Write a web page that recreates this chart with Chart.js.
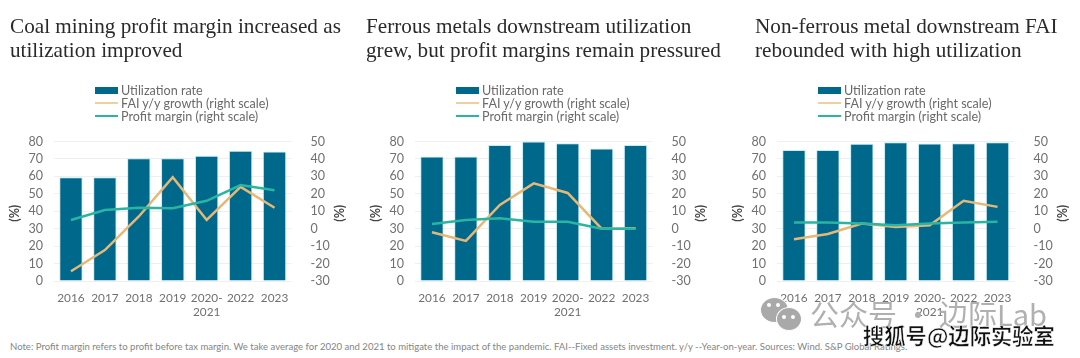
<!DOCTYPE html>
<html>
<head>
<meta charset="utf-8">
<script src="https://cdn.jsdelivr.net/npm/chart.js@4/dist/chart.umd.min.js"></script>
<style>
  html, body { margin: 0; padding: 0; background: #fff; }
  body { width: 1080px; height: 358px; position: relative; overflow: hidden; }
  canvas { position: absolute; top: 0; }
  .title { position: absolute; top: 14px; font: 21.2px/24px "Liberation Serif", serif; color: #2a2a2a; white-space: nowrap; }
  .legend { position: absolute; top: 84px; font: 12.6px/13px Lato, sans-serif; color: #6a6a6a; white-space: nowrap; }
  .legend div { position: relative; padding-left: 26px; height: 13px; }
  .legend i { position: absolute; left: 0; }
  #note { position: absolute; left: 10px; top: 341px; font: 9.55px/12px Lato, sans-serif; color: #858585; white-space: nowrap; }
  .mark { position: absolute; white-space: nowrap; }
  .blob { position: absolute; border-radius: 50%; background: #a9a9a9; border: 1px solid #fff; }
  .eye { position: absolute; border-radius: 50%; background: #fff; width: 4px; height: 4px; }
</style>
</head>
<body>
<canvas id="chart1" width="360" height="330" style="left:0"></canvas>
<canvas id="chart2" width="360" height="330" style="left:360px"></canvas>
<canvas id="chart3" width="360" height="330" style="left:720px"></canvas>
<div id="note"></div>
<div class="blob" style="left:760px;top:297px;width:27px;height:24px"></div>
<div class="blob" style="left:776px;top:307px;width:24px;height:22px"></div>
<div class="eye" style="left:767px;top:303px"></div>
<div class="eye" style="left:776px;top:303px"></div>
<div class="eye" style="left:782px;top:315px"></div>
<div class="eye" style="left:791px;top:315px"></div>
<div class="mark" style="left:810px;top:293px;font:29px/40px 'Noto Sans CJK SC';color:#b0b0b0">公众号 · 边际Lab</div>
<div class="mark" style="left:863px;top:320px;font:bold 21.3px/30px 'Noto Sans CJK SC';color:#111;-webkit-text-stroke:.5px #fff">搜狐号@边际实验室</div>
<script>
const categories = ["2016", "2017", "2018", "2019", ["2020-", "2021"], "2022", "2023"];
const leftTicks = [0, 10, 20, 30, 40, 50, 60, 70, 80];
const rightTicks = [-30, -20, -10, 0, 10, 20, 30, 40, 50];

const titles1 = ["Coal mining profit margin increased as", "utilization improved"];
const utilization1 = [59.5, 59.5, 70.4, 70.4, 71.8, 74.7, 74.3];
const fai1 = [-24.4, -12.3, 7, 29.5, 5, 24, 12];
const profit1 = [5, 10.7, 12, 11.7, 16, 25, 22];

const titles2 = ["Ferrous metals downstream utilization", "grew, but profit margins remain pressured"];
const utilization2 = [71.4, 71.4, 78, 80, 79, 76, 78];
const fai2 = [-2, -7, 13.6, 26, 20.5, 0, 0.3];
const profit2 = [2.7, 5, 6, 4, 4, 0, 0];

const titles3 = ["Non-ferrous metal downstream FAI", "rebounded with high utilization"];
const utilization3 = [75.1, 75.1, 78.7, 79.6, 78.8, 79, 79.5];
const fai3 = [-6, -3, 3, 1, 2, 16, 12.5];
const profit3 = [3.5, 3.5, 3, 2, 3, 3.5, 4];

const seriesNames = ["Utilization rate", "FAI y/y growth (right scale)", "Profit margin (right scale)"];
const noteText = "Note: Profit margin refers to profit before tax margin. We take average for 2020 and 2021 to mitigate the impact of the pandemic. FAI--Fixed assets investment. y/y --Year-on-year. Sources: Wind. S&P Global Ratings.";

const barColor = "#00688b";
const faiColor = "#e6b878";
const profitColor = "#2ab5a3";
const tickColor = "#707070";

document.getElementById("note").textContent = noteText;

// draws (%) beside both axes, same way up as the reference
const percentLabels = {
  id: "percentLabels",
  afterDraw(chart) {
    const { ctx, chartArea } = chart;
    const y = (chartArea.top + chartArea.bottom) / 2 + 2;
    [chartArea.left - 39, chartArea.right + 48].forEach(x => {
      ctx.save();
      ctx.translate(x, y);
      ctx.rotate(-Math.PI / 2);
      ctx.font = "bold 12.5px Lato, sans-serif";
      ctx.fillStyle = "#444";
      ctx.textAlign = "center";
      ctx.textBaseline = "middle";
      ctx.fillText("(%)", 0, 0);
      ctx.restore();
    });
  }
};

function addHtml(offset, left, titleLeft, titleLines) {
  const title = document.createElement("div");
  title.className = "title";
  title.style.left = titleLeft + "px";
  title.innerHTML = titleLines.join("<br>");
  document.body.appendChild(title);

  const legend = document.createElement("div");
  legend.className = "legend";
  legend.style.left = (offset + left + 41) + "px";
  const swatches = [
    `top:3px;width:23px;height:7px;background:${barColor}`,
    `top:5px;width:23px;height:2px;background:#efcf9f`,
    `top:5px;width:23px;height:2px;background:${profitColor}`
  ];
  seriesNames.forEach((name, i) => {
    const row = document.createElement("div");
    row.innerHTML = `<i style="${swatches[i]}"></i>${name}`;
    legend.appendChild(row);
  });
  document.body.appendChild(legend);
}

function drawPanel(canvasId, offset, left, titleLeft, titleLines, utilization, fai, profit) {
  const ctx = document.getElementById(canvasId).getContext("2d");
  new Chart(ctx, {
    type: "bar",
    data: {
      labels: categories,
      datasets: [
        { type: "line", label: seriesNames[1], data: fai, yAxisID: "y2", borderColor: faiColor, borderWidth: 2.5, pointRadius: 0, tension: 0, order: 1 },
        { type: "line", label: seriesNames[2], data: profit, yAxisID: "y2", borderColor: profitColor, borderWidth: 2.5, pointRadius: 0, tension: 0, order: 0 },
        { label: seriesNames[0], data: utilization, yAxisID: "y", backgroundColor: barColor, borderColor: "rgba(120,220,235,.45)", borderWidth: 1, categoryPercentage: 0.69, barPercentage: 1, order: 2 }
      ]
    },
    options: {
      responsive: false,
      animation: false,
      layout: { padding: { top: 141.5 } },
      plugins: { legend: { display: false }, tooltip: { enabled: false } },
      scales: {
        x: {
          grid: { display: false },
          border: { display: false },
          ticks: { color: tickColor, font: { family: "Lato", size: 11.8, lineHeight: 1.22 }, maxRotation: 0, autoSkip: false, padding: 2 },
          afterFit(s) { s.height = 49; }
        },
        y: {
          min: 0, max: 80,
          afterBuildTicks(s) { s.ticks = leftTicks.map(v => ({ value: v })); },
          grid: { color: "#efefef", drawTicks: false },
          border: { display: false },
          ticks: { color: tickColor, font: { family: "Lato", size: 12.5 }, padding: 11, autoSkip: false },
          afterFit(s) { s.width = left; }
        },
        y2: {
          position: "right",
          min: -30, max: 50,
          afterBuildTicks(s) { s.ticks = rightTicks.map(v => ({ value: v })); },
          ticks: { color: tickColor, font: { family: "Lato", size: 12.5 }, padding: 11, autoSkip: false },
          grid: { display: false },
          border: { display: false },
          afterFit(s) { s.width = 360 - left - 237.5; }
        }
      }
    },
    plugins: [percentLabels]
  });
  addHtml(offset, left, titleLeft, titleLines);
}

drawPanel("chart1", 0, 54, 10, titles1, utilization1, fai1, profit1);
drawPanel("chart2", 360, 55, 366, titles2, utilization2, fai2, profit2);
drawPanel("chart3", 720, 57, 755, titles3, utilization3, fai3, profit3);
</script>
</body>
</html>
